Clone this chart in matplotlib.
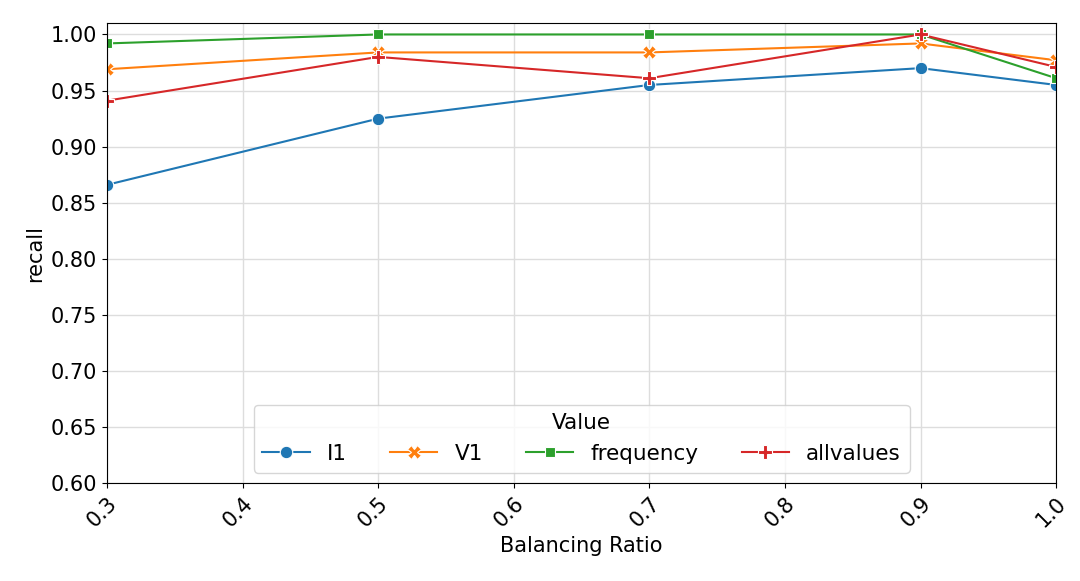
import matplotlib
matplotlib.use("Agg")
import matplotlib.pyplot as plt

ratios = [0.3, 0.5, 0.7, 0.9, 1.0]
l1 = [0.866, 0.925, 0.955, 0.970, 0.955]
v1 = [0.969, 0.984, 0.984, 0.992, 0.977]
frequency = [0.992, 1.000, 1.000, 1.000, 0.961]
allvalues = [0.941, 0.980, 0.961, 1.000, 0.971]

series = [("I1", l1, "o", "#1f77b4", 9),
          ("V1", v1, "X", "#ff7f0e", 10),
          ("frequency", frequency, "s", "#2ca02c", 7),
          ("allvalues", allvalues, "P", "#d62728", 10)]

fig, ax = plt.subplots(figsize=(10.8, 5.81), dpi=100)
for name, vals, marker, color, ms in series:
    ax.plot(ratios, vals, marker=marker, color=color, label=name, linewidth=1.5,
            markersize=ms, markeredgecolor="white", markeredgewidth=0.8)

ax.set_xlim(0.3, 1.0)
ax.set_ylim(0.6, 1.01)
ax.set_xticks([0.3, 0.4, 0.5, 0.6, 0.7, 0.8, 0.9, 1.0])
ax.set_yticks([0.60, 0.65, 0.70, 0.75, 0.80, 0.85, 0.90, 0.95, 1.00])
ax.set_yticklabels([f"{v:.2f}" for v in ax.get_yticks()])
ax.grid(True, color="#dddddd", linewidth=1)
ax.tick_params(labelsize=15)
plt.setp(ax.get_xticklabels(), rotation=45, ha="right", rotation_mode="anchor")
ax.set_xlabel("Balancing Ratio", fontsize=15)
ax.set_ylabel("recall", fontsize=15)
ax.legend(title="Value", ncol=4, loc="lower center", fontsize=15.5, title_fontsize=15.5,
          handlelength=2.2, columnspacing=2.0)

plt.subplots_adjust(left=0.099, right=0.978, top=0.96, bottom=0.168)
plt.savefig("out.png")
